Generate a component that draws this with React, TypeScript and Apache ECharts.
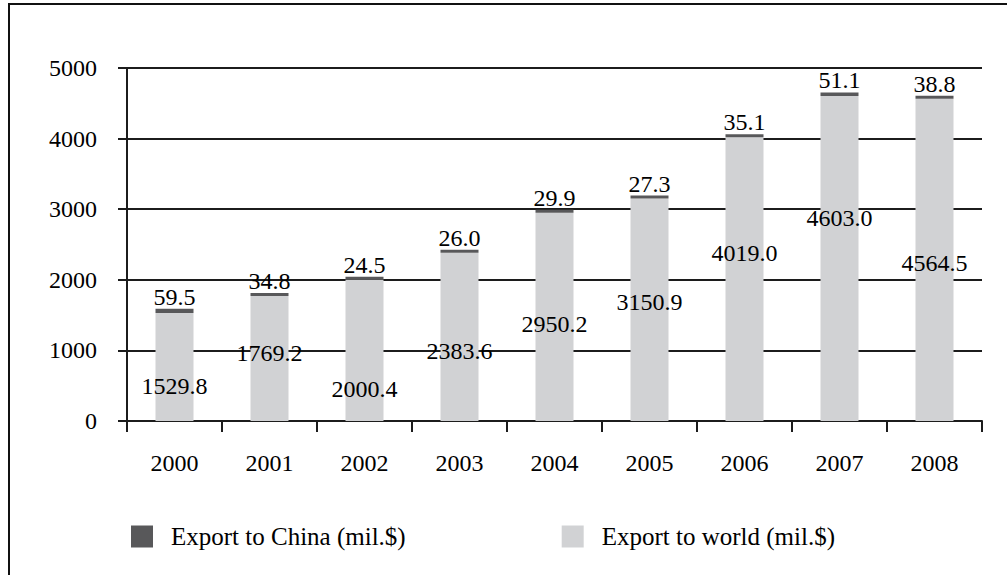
import React, { useEffect, useRef } from "react";
import * as echarts from "echarts";

const years = ["2000", "2001", "2002", "2003", "2004", "2005", "2006", "2007", "2008"];
const exportWorld = [1529.8, 1769.2, 2000.4, 2383.6, 2950.2, 3150.9, 4019.0, 4603.0, 4564.5];
const exportChina = [59.5, 34.8, 24.5, 26.0, 29.9, 27.3, 35.1, 51.1, 38.8];
const yTicks = { min: 0, max: 5000, interval: 1000 };

// label vertical nudges (styling) for the world-value labels
const worldLabelDy = [19, -6, 39, 14, 7, -8, -26, -41, 3];

const FONT = "Liberation Serif";
const LINE = "#1c1c1c";

export default function App() {
  const ref = useRef<HTMLDivElement>(null);
  useEffect(() => {
    document.body.style.margin = "0";
    const chart = echarts.init(ref.current!, undefined, { renderer: "svg" });
    chart.setOption({
      animation: false,
      backgroundColor: "#ffffff",
      textStyle: { fontFamily: FONT, color: "#000" },
      graphic: [
        {
          type: "rect",
          shape: { x: 9, y: 4, width: 1200, height: 800 },
          style: { fill: "none", stroke: "#111", lineWidth: 2 },
          silent: true,
        },
      ],
      grid: { left: 127, right: 25, top: 68, bottom: 154 },
      legend: {
        data: ["Export to China (mil.$)", "Export to world (mil.$)"],
        left: 131,
        top: 524,
        padding: 0,
        itemWidth: 22,
        itemHeight: 22,
        itemGap: 156,
        icon: "rect",
        textStyle: { fontFamily: FONT, fontSize: 25, color: "#000", padding: [0, 0, 0, 13] },
      },
      xAxis: {
        type: "category",
        data: years,
        axisLine: { lineStyle: { color: LINE, width: 2 } },
        axisTick: { show: true, length: 11, lineStyle: { color: LINE, width: 2 } },
        axisLabel: { fontFamily: FONT, fontSize: 24, color: "#000", margin: 30 },
      },
      yAxis: {
        type: "value",
        min: yTicks.min,
        max: yTicks.max,
        interval: yTicks.interval,
        axisLine: { show: true, lineStyle: { color: LINE, width: 2 } },
        axisTick: { show: true, length: 9, lineStyle: { color: LINE, width: 2 } },
        splitLine: { show: true, lineStyle: { color: LINE, width: 2 } },
        axisLabel: {
          fontFamily: FONT,
          fontSize: 24,
          color: "#000",
          margin: 30,
          formatter: (v: number) => String(v),
        },
      },
      series: [
        {
          name: "Export to world (mil.$)",
          type: "bar",
          stack: "total",
          barWidth: 38,
          itemStyle: { color: "#d1d2d4" },
          data: exportWorld.map((v, i) => ({
            value: v,
            label: { offset: [0, worldLabelDy[i]] },
          })),
          label: {
            show: true,
            position: "inside",
            fontFamily: FONT,
            fontSize: 24,
            color: "#000",
            formatter: (p: any) => Number(p.value).toFixed(1),
          },
        },
        {
          name: "Export to China (mil.$)",
          type: "bar",
          stack: "total",
          barWidth: 38,
          barMinHeight: 3,
          itemStyle: { color: "#58585a" },
          data: exportChina,
          label: {
            show: true,
            position: "top",
            distance: 0,
            fontFamily: FONT,
            fontSize: 24,
            color: "#000",
            formatter: (p: any) => Number(p.value).toFixed(1),
          },
        },
      ],
    });
    return () => chart.dispose();
  }, []);
  return <div ref={ref} style={{ width: 1007, height: 575 }} />;
}
